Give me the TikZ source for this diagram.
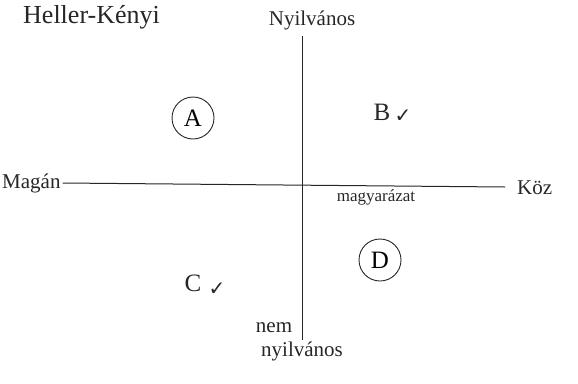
\documentclass[tikz,border=0pt]{standalone}
\usepackage{fontspec}
\setmainfont{Liberation Serif}
\newfontfamily\symfont{DejaVu Sans}
\begin{document}
\begin{tikzpicture}[x=1pt,y=-1pt,
  axis/.style={line width=1pt, draw=black!85},
  lbl/.style={font=\fontsize{21}{23}\selectfont, text=black!85, inner sep=1pt},
  small/.style={font=\fontsize{17}{19}\selectfont, text=black!85, inner sep=1pt},
  circ/.style={circle, draw=black!85, line width=0.9pt, font=\fontsize{25}{27}\selectfont, inner sep=3pt, minimum size=42pt},
  quad/.style={font=\fontsize{25}{27}\selectfont, text=black!85, inner sep=1pt},
  chk/.style={font=\symfont\fontsize{20}{22}\selectfont, text=black!85, inner sep=0pt}]
\useasboundingbox (0,0) rectangle (578,383);
% titles
\node[lbl, anchor=west, font=\fontsize{26}{28}\selectfont] (title) at (22,17) {Heller-Kényi};
\node[lbl] (ny) at (312,20) {Nyilvános};
\node[lbl, anchor=west] (magan) at (1,183) {Magán};
\node[lbl, anchor=west] (koz) at (516,188) {Köz};
\node[small] (magy) at (376,197) {magyarázat};
\node[lbl] (nem) at (274,328) {nem};
\node[lbl] (nyn) at (302,351) {nyilvános};
% axes
\coordinate (top) at (302,36);
\coordinate (bot) at (302,340);
\coordinate (left) at ([xshift=1pt]magan.east);
\coordinate (right) at (505,187);
\draw[axis] (top) -- (bot);
\draw[axis] (left) -- (right);
% quadrant labels
\node[circ] (A) at (193,118) {A};
\node[quad] (B) at (382,112) {B};
\node[chk, anchor=west] (Bchk) at ([xshift=3pt,yshift=-4pt]B.east) {✓};
\node[quad] (C) at (193,283) {C};
\node[chk, anchor=west] (Cchk) at ([xshift=6pt,yshift=-6pt]C.east) {✓};
\node[circ] (D) at (380,260) {D};
\end{tikzpicture}
\end{document}
